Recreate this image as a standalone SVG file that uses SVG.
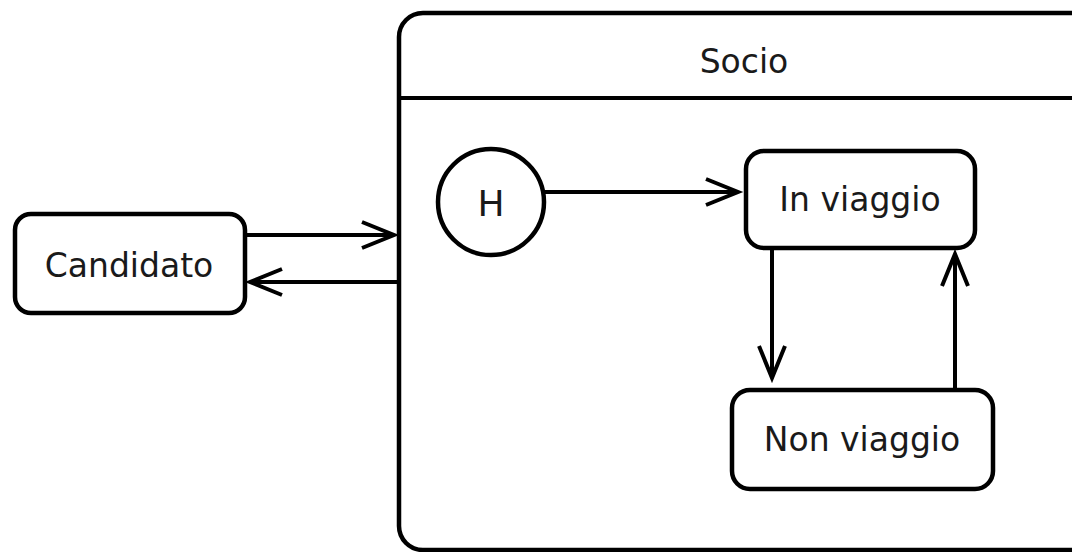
<svg xmlns="http://www.w3.org/2000/svg" width="1072" height="552" viewBox="0 0 1072 552">
  <defs>
    <marker id="open" viewBox="0 0 20 20" refX="18" refY="10" markerWidth="20" markerHeight="20" markerUnits="userSpaceOnUse" orient="auto" overflow="visible">
      <path d="M-14,-3 L18,10 L-14,23" fill="none" stroke="#000" stroke-width="4" stroke-linejoin="miter"/>
    </marker>
  </defs>
  <style>
    .box { fill: #fff; stroke: #000; stroke-width: 4.5; }
    .lbl { font-family: "DejaVu Sans", "Liberation Sans", sans-serif; font-size: 33px; fill: #1a1a1a; text-anchor: middle; }
    .edge { fill: none; stroke: #000; stroke-width: 4; marker-end: url(#open); }
  </style>
  <rect width="1072" height="552" fill="#fff"/>

  <g id="socio">
    <rect class="box" x="399" y="13" width="700" height="537" rx="24"/>
    <line x1="397" y1="98" x2="1072" y2="98" stroke="#000" stroke-width="4"/>
    <text class="lbl" x="744" y="73">Socio</text>
  </g>

  <g id="candidato">
    <rect class="box" x="15" y="214" width="230" height="99" rx="16"/>
    <text class="lbl" x="129" y="277">Candidato</text>
  </g>

  <g id="history">
    <circle class="box" cx="491" cy="202" r="53"/>
    <text class="lbl" x="491" y="216" style="font-size:36px">H</text>
  </g>

  <g id="in-viaggio">
    <rect class="box" x="746" y="151" width="229" height="97" rx="18"/>
    <text class="lbl" x="860" y="211">In viaggio</text>
  </g>

  <g id="non-viaggio">
    <rect class="box" x="732" y="390" width="261" height="99" rx="18"/>
    <text class="lbl" x="862" y="451">Non viaggio</text>
  </g>

  <g id="connectors">
    <path class="edge" d="M245,235 L394,235"/>
    <path class="edge" d="M397,282 L250,282"/>
    <path class="edge" d="M544,192 L738,192"/>
    <path class="edge" d="M772,248 L772,378"/>
    <path class="edge" d="M955,390 L955,254"/>
  </g>
</svg>
